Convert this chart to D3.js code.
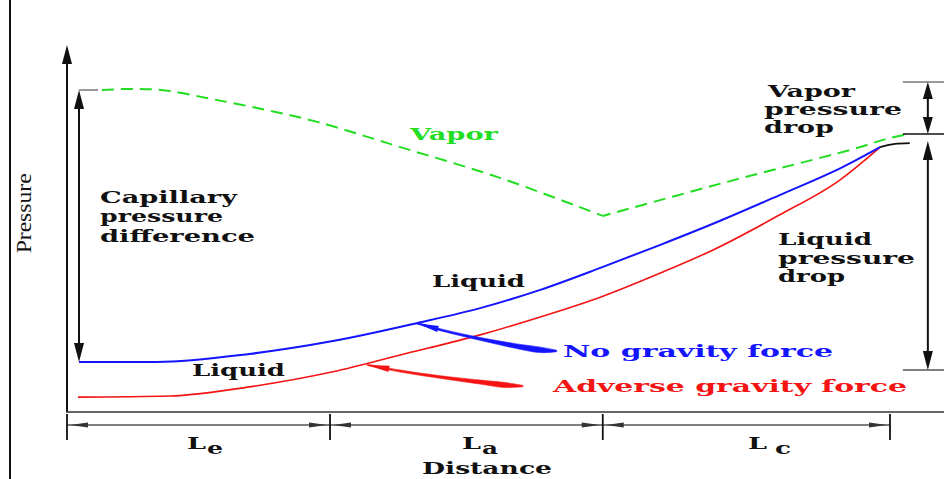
<!DOCTYPE html>
<html><head><meta charset="utf-8">
<script src="https://cdn.jsdelivr.net/npm/d3@7"></script>
<style>html,body{margin:0;padding:0;background:#fff;} svg{display:block}</style>
</head><body><svg id="c" width="944" height="479"></svg>
<script>
// ---------------- DATA (distance 0-100 along pipe, pressure 0-100 arbitrary) ----------------
const vaporEvapX = [4.25, 7.65, 11.9, 17.7, 24.3, 30.4, 40.5, 52.6, 65.1];
const vaporEvapP = [87.7, 88.0, 87.6, 85.2, 82.2, 79.0, 72.1, 63.7, 53.3];
const vaporCondX = [65.1, 80.2, 95.1, 100.0, 102.4];
const vaporCondP = [53.3, 62.6, 71.3, 74.6, 75.7];

const noGravityX = [1.46, 10.9, 22.2, 32.3, 42.5, 50.2, 57.5, 64.8, 72.1, 79.3, 86.6, 94.3, 98.8];
const noGravityP = [13.4, 13.4, 15.6, 19.1, 24.0, 28.1, 33.1, 39.1, 45.4, 51.9, 59.0, 66.7, 72.1];

const adverseX = [1.34, 12.5, 22.2, 32.3, 40.5, 50.2, 57.5, 64.8, 72.1, 78.5, 86.6, 93.9, 98.8];
const adverseP = [3.8, 4.1, 6.6, 10.7, 15.3, 20.8, 25.7, 31.1, 37.7, 44.0, 53.6, 63.1, 72.1];

const junctionX = [98.8, 100.6, 102.4];
const junctionP = [72.1, 73.0, 73.2];

const sectionBounds = [0, 31.96, 65.1, 100];
const sectionMain = ["L", "L", "L"];
const sectionSubs = ["e", "a", "c"];

// pressure levels for dimension arrows
const capillaryX = 1.46;
const rightArrowX = 104.6;
const vaporDropLevels = [89.9, 75.7];
const liquidDropLevels = [73.8, 11.2];

// annotation pointer arrows (distance, pressure)
const noGravPtrX = [42.5, 45.9, 50.2, 54.4, 57.5, 59.5];
const noGravPtrP = [24.0, 21.9, 19.7, 17.8, 16.7, 16.4];
const advPtrX = [36.5, 40.5, 45.3, 50.2, 53.2, 55.4];
const advPtrP = [12.6, 10.9, 9.3, 7.9, 7.1, 6.8];

// ---------------- LAYOUT ----------------
const svg = d3.select("#c");
const x = d3.scaleLinear().domain([0, 100]).range([67, 890]);
const y = d3.scaleLinear().domain([0, 100]).range([411, 45]);
const zip = (a, b) => a.map((v, i) => [v, b[i]]);
const line = d3.line().x(d => x(d[0])).y(d => y(d[1])).curve(d3.curveCatmullRom.alpha(0.5));
const lineM = d3.line().x(d => x(d[0])).y(d => y(d[1])).curve(d3.curveMonotoneX);

const GREEN = "#22dd22", BLUE = "#1414ff", RED = "#f41414";
const FONT = "'DejaVu Serif', 'Liberation Serif', serif";

function head(tip, dir, len, hw, color) {
  const [tx, ty] = tip; const [dx, dy] = dir;
  const L = Math.hypot(dx, dy), ux = dx / L, uy = dy / L;
  const bx = tx - ux * len, by = ty - uy * len;
  const nx = -uy, ny = ux;
  svg.append("path")
    .attr("d", `M${tx},${ty}L${bx + nx * hw},${by + ny * hw}L${bx - nx * hw},${by - ny * hw}Z`)
    .attr("fill", color);
}

// outer left frame line
svg.append("line").attr("x1", 10).attr("x2", 10).attr("y1", 0).attr("y2", 479)
  .attr("stroke", "#111").attr("stroke-width", 2);

// left axis with arrow
svg.append("line").attr("x1", x(0)).attr("x2", x(0)).attr("y1", y(100) + 14).attr("y2", y(0) + 1)
  .attr("stroke", "#111").attr("stroke-width", 2);
head([x(0), y(100)], [0, -1], 19, 5, "#111");
// bottom axis
svg.append("line").attr("x1", x(0) - 1).attr("x2", 944).attr("y1", y(0) + 1).attr("y2", y(0) + 1)
  .attr("stroke", "#333").attr("stroke-width", 1.6);

// y label
svg.append("text")
  .attr("transform", `translate(31,${y(54)}) rotate(-90)`)
  .attr("text-anchor", "middle")
  .attr("font-family", "'Liberation Serif', 'Times New Roman', serif")
  .attr("font-size", 22)
  .attr("textLength", 80).attr("lengthAdjust", "spacingAndGlyphs")
  .attr("fill", "#111")
  .text("Pressure");

// ---------------- CURVES ----------------
svg.append("path").attr("d", line(zip(vaporEvapX, vaporEvapP)))
  .attr("fill", "none").attr("stroke", GREEN).attr("stroke-width", 2)
  .attr("stroke-dasharray", "12,7");
svg.append("path").attr("d", line(zip(vaporCondX, vaporCondP)))
  .attr("fill", "none").attr("stroke", GREEN).attr("stroke-width", 2)
  .attr("stroke-dasharray", "12,7").attr("stroke-dashoffset", 4);

svg.append("path").attr("d", lineM(zip(adverseX, adverseP)))
  .attr("fill", "none").attr("stroke", RED).attr("stroke-width", 1.6);
svg.append("path").attr("d", lineM(zip(noGravityX, noGravityP)))
  .attr("fill", "none").attr("stroke", BLUE).attr("stroke-width", 2);
svg.append("path").attr("d", lineM(zip(junctionX, junctionP)))
  .attr("fill", "none").attr("stroke", "#111").attr("stroke-width", 1.8);

// ---------------- DIMENSION ARROWS ----------------
// capillary pressure difference
const capTop = y(vaporEvapP[0]), capBot = y(noGravityP[0]);
svg.append("line").attr("x1", x(capillaryX)).attr("x2", x(vaporEvapX[0]) - 4)
  .attr("y1", capTop).attr("y2", capTop).attr("stroke", "#777").attr("stroke-width", 1.5);
svg.append("line").attr("x1", x(capillaryX)).attr("x2", x(capillaryX))
  .attr("y1", capTop + 10).attr("y2", capBot - 10).attr("stroke", "#111").attr("stroke-width", 2);
head([x(capillaryX), capTop], [0, -1], 19, 5, "#111");
head([x(capillaryX), capBot], [0, 1], 19, 5, "#111");

// right side
const rx = x(rightArrowX);
[[vaporDropLevels[0], "#777"], [vaporDropLevels[1], "#111"], [liquidDropLevels[1], "#555"]].forEach(([v, c]) => {
  svg.append("line").attr("x1", rx - 25).attr("x2", 944).attr("y1", y(v)).attr("y2", y(v))
    .attr("stroke", c).attr("stroke-width", 1.5);
});
svg.append("line").attr("x1", rx).attr("x2", rx).attr("y1", y(vaporDropLevels[0]) + 8)
  .attr("y2", y(vaporDropLevels[1]) - 8).attr("stroke", "#111").attr("stroke-width", 2);
head([rx, y(vaporDropLevels[0])], [0, -1], 17, 5, "#111");
head([rx, y(vaporDropLevels[1])], [0, 1], 17, 5, "#111");
svg.append("line").attr("x1", rx).attr("x2", rx).attr("y1", y(liquidDropLevels[0]) + 8)
  .attr("y2", y(liquidDropLevels[1]) - 8).attr("stroke", "#111").attr("stroke-width", 2);
head([rx, y(liquidDropLevels[0])], [0, -1], 19, 5, "#111");
head([rx, y(liquidDropLevels[1])], [0, 1], 19, 5, "#111");

// distance dimension line
const dimY = y(0) + 14;
svg.append("line").attr("x1", x(0)).attr("x2", x(100)).attr("y1", dimY).attr("y2", dimY)
  .attr("stroke", "#555").attr("stroke-width", 1.3);
sectionBounds.forEach(b => {
  svg.append("line").attr("x1", x(b)).attr("x2", x(b)).attr("y1", y(0) + 3).attr("y2", y(0) + 29)
    .attr("stroke", "#111").attr("stroke-width", 1.8);
});
for (let i = 0; i < sectionMain.length; i++) {
  const a = x(sectionBounds[i]), b = x(sectionBounds[i + 1]);
  head([a + 3, dimY], [-1, 0], 18, 2.5, "#333");
  head([b - 3, dimY], [1, 0], 18, 2.5, "#333");
}

// ---------------- POINTER ARROWS ----------------
function pointer(xs, ps, widths, color) {
  const pts = xs.map((v, i) => [x(v), y(ps[i])]);
  const left = [], right = [];
  pts.forEach((p, i) => {
    const a = pts[Math.max(0, i - 1)], b = pts[Math.min(pts.length - 1, i + 1)];
    let dx = b[0] - a[0], dy = b[1] - a[1]; const L = Math.hypot(dx, dy); dx /= L; dy /= L;
    const w = widths[i] / 2;
    left.push([p[0] - dy * w, p[1] + dx * w]);
    right.push([p[0] + dy * w, p[1] - dx * w]);
  });
  const lg = d3.line().curve(d3.curveCatmullRom);
  const d = lg(left) + lg(right.reverse()).replace(/^M/, "L") + "Z";
  svg.append("path").attr("d", d).attr("fill", color).attr("stroke", color).attr("stroke-width", 0.6);
  head(pts[0], [pts[0][0] - pts[1][0], pts[0][1] - pts[1][1]], 22, 3.2, color);
}
pointer(noGravPtrX, noGravPtrP, [1.5, 2, 2.8, 4.5, 5.5, 1.5], BLUE);
pointer(advPtrX, advPtrP, [1.5, 2, 2.6, 4, 5, 1.5], RED);

// ---------------- TEXT ----------------
const labels = [
  ["Capillary", 100, 203, 137, "#111"],
  ["pressure", 100, 222, 123, "#111"],
  ["difference", 100, 242, 155, "#111"],
  ["Vapor", 410, 140, 88, GREEN],
  ["Liquid", 432, 287, 93, "#111"],
  ["Liquid", 192, 376, 93, "#111"],
  ["Vapor", 768, 97, 87, "#111"],
  ["pressure", 764, 115, 138, "#111"],
  ["drop", 764, 133, 70, "#111"],
  ["Liquid", 778, 245, 94, "#111"],
  ["pressure", 778, 264, 137, "#111"],
  ["drop", 778, 282, 67, "#111"],
  ["No gravity force", 563, 357, 270, BLUE],
  ["Adverse gravity force", 553, 392, 354, RED],
  ["Distance", 422, 474, 130, "#111"]
];
labels.forEach(([t, tx, ty, len, c]) => {
  svg.append("text").attr("x", tx).attr("y", ty)
    .attr("font-family", FONT).attr("font-weight", "bold").attr("font-size", 16)
    .attr("textLength", len).attr("lengthAdjust", "spacingAndGlyphs")
    .attr("fill", c).text(t);
});
const subPos = [[187, 207], [462, 482], [748, 775]];
sectionMain.forEach((m, i) => {
  svg.append("text").attr("x", subPos[i][0]).attr("y", 449)
    .attr("font-family", FONT).attr("font-weight", "bold").attr("font-size", 17)
    .attr("textLength", 19).attr("lengthAdjust", "spacingAndGlyphs").attr("fill", "#111").text(m);
  svg.append("text").attr("x", subPos[i][1]).attr("y", 454)
    .attr("font-family", FONT).attr("font-weight", "bold").attr("font-size", 17)
    .attr("textLength", 16).attr("lengthAdjust", "spacingAndGlyphs").attr("fill", "#111").text(sectionSubs[i]);
});
</script></body></html>
